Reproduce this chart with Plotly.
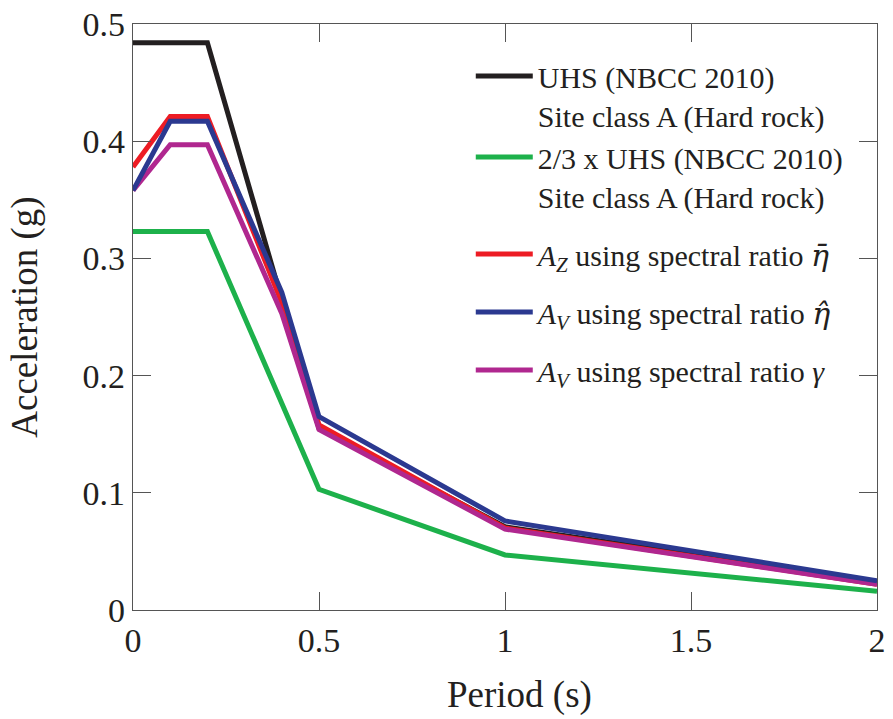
import plotly.graph_objects as go

# Periods (s)
period_uhs = [0, 0.2, 0.5, 1.0, 2.0]
period_est = [0, 0.1, 0.2, 0.4, 0.5, 1.0, 2.0]

uhs = [0.484, 0.484, 0.155, 0.071, 0.024]
uhs_23 = [0.323, 0.323, 0.103, 0.047, 0.016]
az_eta_bar = [0.378, 0.421, 0.421, 0.262, 0.158, 0.070, 0.022]
av_eta_hat = [0.358, 0.417, 0.417, 0.271, 0.165, 0.076, 0.025]
av_gamma = [0.358, 0.397, 0.397, 0.253, 0.154, 0.069, 0.022]

x_ticks = [0, 0.5, 1, 1.5, 2]
x_ticktext = ["0", "0.5", "1", "1.5", "2"]
y_ticks = [0, 0.1, 0.2, 0.3, 0.4, 0.5]
y_ticktext = ["0", "0.1", "0.2", "0.3", "0.4", "0.5"]

x_title = "Period (s)"
y_title = "Acceleration (g)"

DV = "font-family:'DejaVu Serif'"
names = {
    "uhs": "UHS (NBCC 2010)<br>Site class A (Hard rock)",
    "uhs23": "2/3 x UHS (NBCC 2010)<br>Site class A (Hard rock)",
    "az": f"<i>A</i><sub><i>Z</i></sub> using spectral ratio <span style=\"{DV}\"><i>η̄</i></span>",
    "avh": f"<i>A</i><sub><i>V</i></sub> using spectral ratio <span style=\"{DV}\"><i>η̂</i></span>",
    "avg": "<i>A</i><sub><i>V</i></sub> using spectral ratio <i>γ</i>",
}

FONT = "Liberation Serif, Times New Roman, serif"

fig = go.Figure()
fig.add_trace(go.Scatter(x=period_uhs, y=uhs, mode="lines", name=names["uhs"],
                         line=dict(color="#231f20", width=5), legendrank=1, legendgroup="uhs"))
fig.add_trace(go.Scatter(x=period_uhs, y=uhs_23, mode="lines", name=names["uhs23"],
                         line=dict(color="#1db14b", width=5), legendrank=2, legendgroup="uhs"))
fig.add_trace(go.Scatter(x=period_est, y=az_eta_bar, mode="lines", name=names["az"],
                         line=dict(color="#ed1c24", width=5), legendrank=3, legendgroup="c"))
fig.add_trace(go.Scatter(x=period_est, y=av_gamma, mode="lines", name=names["avg"],
                         line=dict(color="#b0278f", width=5), legendrank=5, legendgroup="e"))
fig.add_trace(go.Scatter(x=period_est, y=av_eta_hat, mode="lines", name=names["avh"],
                         line=dict(color="#2b3990", width=5), legendrank=4, legendgroup="d"))

axis_common = dict(
    showline=True, linecolor="#555555", linewidth=1.3, mirror="ticks",
    ticks="inside", ticklen=18, tickwidth=1.3, tickcolor="#555555",
    showgrid=False, zeroline=False, automargin=False,
    tickfont=dict(family=FONT, size=34, color="#231f20"),
)

fig.update_layout(
    width=893, height=719, autosize=False,
    margin=dict(l=133, r=16, t=24, b=109),
    paper_bgcolor="white", plot_bgcolor="white",
    font=dict(family=FONT, color="#231f20"),
    xaxis=dict(range=[0, 2], tickvals=x_ticks, ticktext=x_ticktext, **axis_common),
    yaxis=dict(range=[0, 0.5], tickvals=y_ticks, ticktext=y_ticktext,
               title=dict(text=y_title, font=dict(family=FONT, size=37), standoff=33),
               **axis_common),
    legend=dict(x=0.454, y=0.9556, xanchor="left", yanchor="top",
                font=dict(family=FONT, size=30, color="#231f20"),
                bgcolor="rgba(0,0,0,0)", valign="top", tracegroupgap=16,
                itemwidth=57),
    showlegend=True,
)
fig.add_annotation(text=x_title, xref="paper", yref="paper", x=0.519, y=-0.145,
                   xanchor="center", yanchor="middle", showarrow=False,
                   font=dict(family=FONT, size=37, color="#231f20"))

fig.write_html("out.html")
